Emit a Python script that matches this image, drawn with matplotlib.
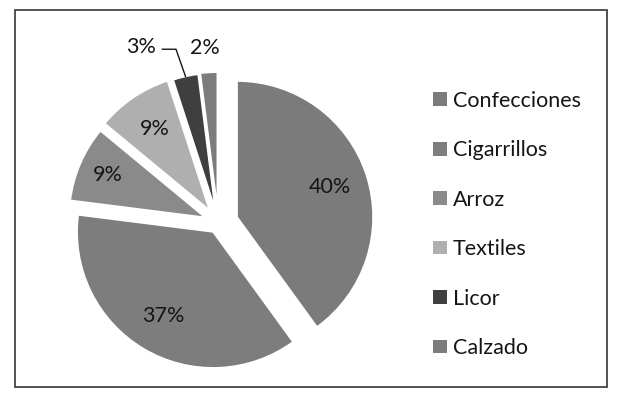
import numpy as np
import matplotlib
matplotlib.use("Agg")
import matplotlib.pyplot as plt
from matplotlib.patches import Rectangle, Patch

plt.rcParams['font.family'] = ['Lato', 'DejaVu Sans']

categories = ["Confecciones", "Cigarrillos", "Arroz", "Textiles", "Licor", "Calzado"]
values = [40, 37, 9, 9, 3, 2]
colors = ["#7b7b7b", "#7d7d7d", "#8a8a8a", "#afafaf", "#3f3f3f", "#7c7c7c"]
explode = [0.145, 0.075, 0.105, 0.115, 0.105, 0.11]

W, H = 620, 401
fig = plt.figure(figsize=(W / 100, H / 100), dpi=100)

# pie axes: centre at pixel (218, 223), radius 136 px
cx, cy, R = 218.3, 223.1, 136.0
L = 1.3
side = 2 * L * R
ax = fig.add_axes([(cx - side / 2) / W, ((H - cy) - side / 2) / H, side / W, side / H])

FS = 15.5
TC = "#151515"

def fmt(p):
    return f"{p:.0f}%" if p >= 5 else ""

wedges, texts, autotexts = ax.pie(
    values, colors=colors, explode=explode, startangle=90, counterclock=False,
    autopct=fmt, pctdistance=0.72, radius=1.0,
    wedgeprops=dict(edgecolor="white", linewidth=1.2),
    textprops=dict(fontsize=FS, color=TC))
ax.set_xlim(-L, L)
ax.set_ylim(-L, L)
ax.set_aspect("equal")
ax.set_axis_off()

# move the Arroz label slightly outward as in the reference
w = wedges[2]
mid = np.deg2rad((w.theta1 + w.theta2) / 2)
autotexts[2].set_position((w.center[0] + 0.78 * np.cos(mid), w.center[1] + 0.78 * np.sin(mid)))

# outside labels for small slices
def outer_mid(w):
    m = np.deg2rad((w.theta1 + w.theta2) / 2)
    return w.center[0] + w.r * np.cos(m), w.center[1] + w.r * np.sin(m)

# Licor 3% with leader line
ox, oy = outer_mid(wedges[4])
ax.plot([ox, ox - 0.07, ox - 0.17], [oy, oy + 0.2, oy + 0.2], color=TC, lw=1.0, clip_on=False)
ax.text(ox - 0.33, oy + 0.22, f"{values[4]}%", ha="center", va="center", fontsize=FS, color=TC, clip_on=False)

# Calzado 2%
ox, oy = outer_mid(wedges[5])
ax.text(ox - 0.03, oy + 0.18, f"{values[5]}%", ha="center", va="center", fontsize=FS, color=TC, clip_on=False)

# legend
handles = [Patch(facecolor=c, edgecolor="none") for c in colors]
fig.legend(handles, categories, loc="upper left", bbox_to_anchor=(424 / W, 1 - 82 / H),
           frameon=False, fontsize=FS, labelspacing=1.37, handlelength=0.65, handleheight=0.62,
           handletextpad=0.3, borderaxespad=0, labelcolor=TC)

# outer border
fig.patches.append(Rectangle((15 / W, (H - 387) / H), 592 / W, 377 / H, transform=fig.transFigure,
                             fill=False, edgecolor="#444444", linewidth=1.3))

fig.savefig("out.png", dpi=100)
